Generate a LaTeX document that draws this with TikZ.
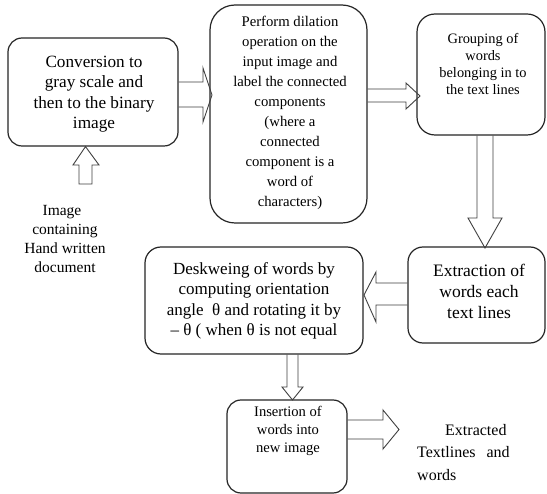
\documentclass[tikz,border=0pt]{standalone}
\usepackage{fontspec}
\setmainfont{Liberation Serif}
\usetikzlibrary{calc}
\begin{document}
\begin{tikzpicture}[x=1pt,y=-1pt,
  box/.style={draw=black!85, line width=1.2pt, inner sep=0pt},
  txt/.style={align=center, inner sep=0pt, text=black},
  barrow/.style={draw=black!75, line width=0.9pt, line join=miter}]
\useasboundingbox[fill=white] (0,0) rectangle (547,494);

% boxes
\node[box, rounded corners=14pt, minimum width=170pt, minimum height=108pt] (b1) at (93,92) {};
\node[box, rounded corners=25pt, minimum width=157pt, minimum height=218pt] (b2) at (288.5,114) {};
\node[box, rounded corners=18pt, minimum width=128pt, minimum height=121pt] (b3) at (481,74.5) {};
\node[box, rounded corners=15pt, minimum width=137pt, minimum height=96pt] (b4) at (476.5,295) {};
\node[box, rounded corners=16pt, minimum width=218pt, minimum height=107pt] (b5) at (254,300.5) {};
\node[box, rounded corners=14pt, minimum width=120pt, minimum height=93pt] (b6) at (287,446.5) {};

% texts
\node[txt, font=\fontsize{17.2}{20.5}\selectfont] (t1) at (94,94) {Conversion to\\gray scale and\\then to the binary\\image};
\node[txt, font=\fontsize{14.7}{20}\selectfont] (t2) at (290,112.5) {Perform dilation\\operation on the\\input image and\\label the connected\\components\\(where a\\connected\\component is a\\word of\\characters)};
\node[txt, font=\fontsize{14.4}{17.3}\selectfont] (t3) at (483,64) {Grouping of\\words\\belonging in to\\the text lines};
\node[txt, font=\fontsize{17.5}{21}\selectfont] (t4) at (479,291) {Extraction of\\words each\\text lines};
\node[txt, font=\fontsize{17}{20.5}\selectfont] (t5) at (254,301) {Deskweing of words by\\computing orientation\\angle\ \ θ and rotating it by\\– θ ( when θ is not equal};
\node[txt, font=\fontsize{14.6}{18}\selectfont] (t6) at (288,431) {Insertion of\\words into\\new image};
\node[txt, font=\fontsize{15.5}{19.3}\selectfont] (timg) at (65,239) {Image\hspace*{6pt}\\containing\\Hand written\\document};
\node[txt, align=left, anchor=west, font=\fontsize{16}{22.5}\selectfont] (text) at (417,452.5) {\hspace*{28pt}Extracted\\Textlines\hspace{11pt}and\\words};

% block arrows
\coordinate (u0) at (85.5,184);
\draw[barrow] (u0 -| 79,0) -- (79,165) -- (73,165) -- (b1.south -| 85.5,0) -- (99,165) -- (92,165) -- (u0 -| 92,0) -- cycle;
\draw[barrow] (b1.east |- 0,82) -- (203,82) -- (203,68) -- (212,95) -- (203,122) -- (203,107) -- (b1.east |- 0,107);
\draw[barrow] (b2.east |- 0,89) -- (406,89) -- (406,83) -- (420,96) -- (406,109) -- (406,102) -- (b2.east |- 0,102);
\draw[barrow] (b3.south -| 477,0) -- (477,218) -- (468,218) -- (485,248) -- (502,218) -- (493,218) -- (b3.south -| 493,0);
\draw[barrow] (b4.west |- 0,283) -- (376,283) -- (376,272) -- (364,295) -- (376,322) -- (376,305) -- (b4.west |- 0,305);
\draw[barrow] (b5.south -| 287,0) -- (287,387) -- (282,387) -- (292.5,400) -- (303,387) -- (298,387) -- (b5.south -| 298,0);
\coordinate (tip6) at (399,429.5);
\draw[barrow] (b6.east |- 0,420) -- (383,420) -- (383,410) -- (tip6) -- (383,449) -- (383,439) -- (b6.east |- 0,439);
\end{tikzpicture}
\end{document}
